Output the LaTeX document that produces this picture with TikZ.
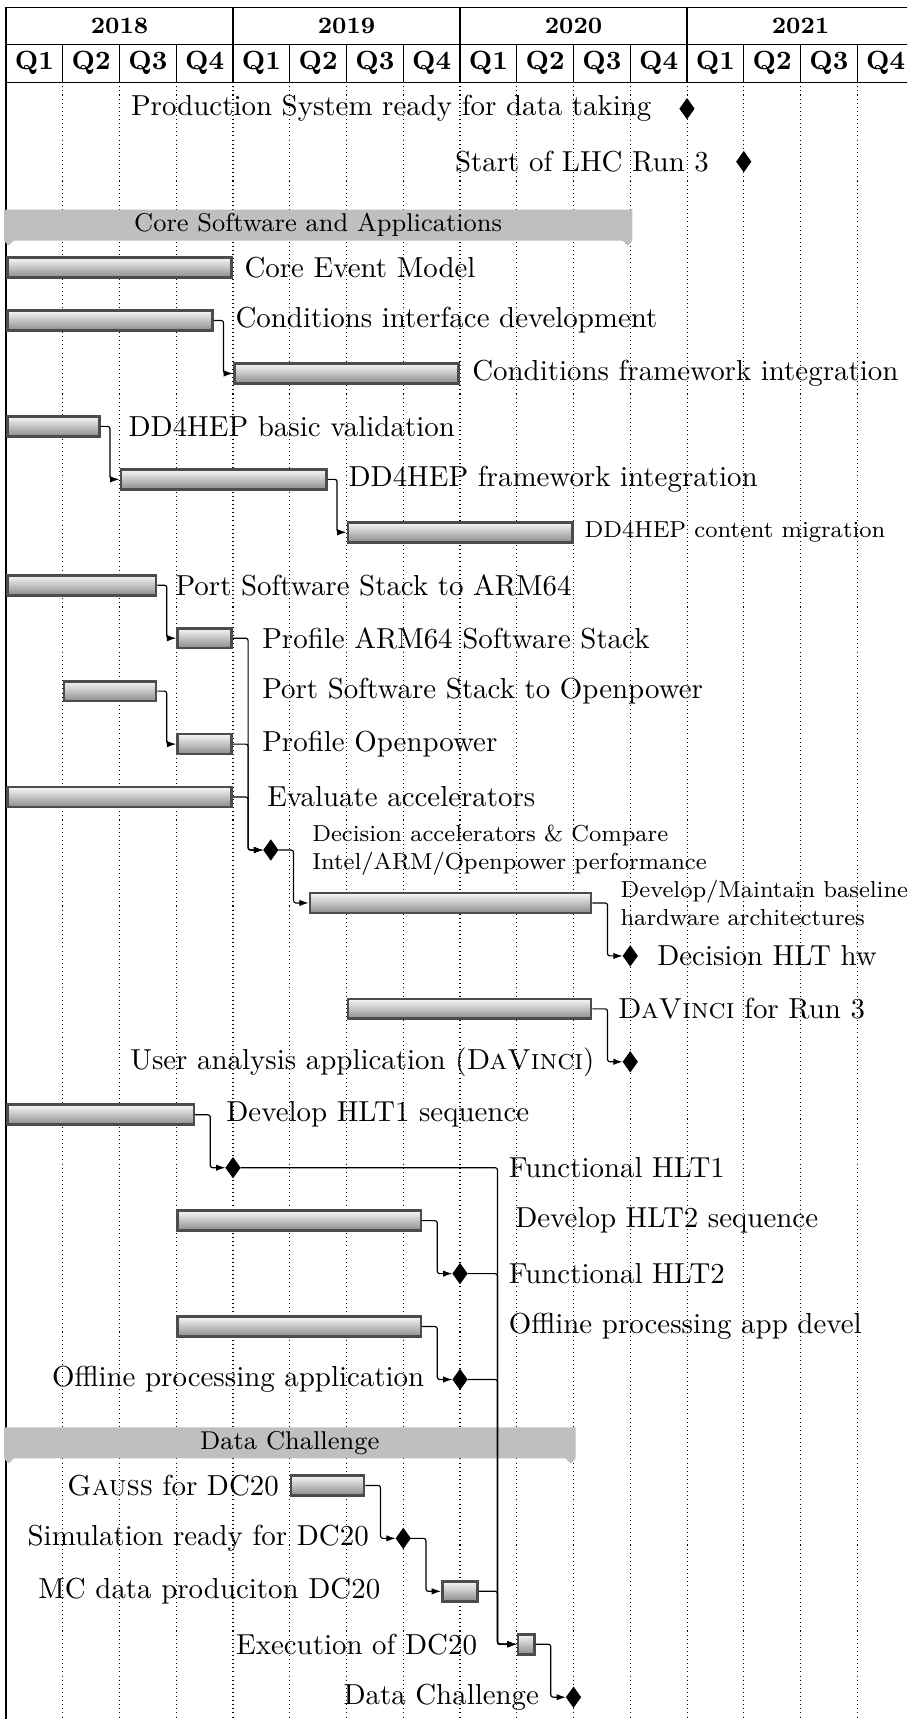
\documentclass[tikz,border=0pt]{standalone}
\usetikzlibrary{shapes.geometric,arrows.meta,calc}
% month -> x, row -> y (units: 1 = 0.3418pt, y grows downwards)
\newcommand\mx[1]{(6+18.9167*(#1))}
\newcommand\ry[1]{(108.7+52.95*(#1))}
\tikzset{
  ganttbar/.style={rectangle, draw=black!70, line width=0.9pt, top color=black!3, bottom color=black!45,
    inner sep=0pt, minimum height=6.8pt},
  ms/.style={diamond, fill=black, inner sep=0pt, outer sep=0pt, minimum width=5.2pt, minimum height=7.3pt},
  lnk/.style={draw=black, line width=0.4pt, rounded corners=0.8pt, -{Latex[length=3.2pt,width=2.2pt]}},
  grp/.style={fill=black!25},
  grptext/.style={font=\fontsize{8.8}{10.5}\selectfont, inner sep=0pt},
  lbl/.style={inner sep=0pt, anchor=west},
  lblr/.style={inner sep=0pt, anchor=east},
  lblsmall/.style={inner sep=0pt, anchor=west, align=left, font=\fontsize{7.9}{9.4}\selectfont},
  gridline/.style={line width=0.35pt, dash pattern=on 0.35pt off 1.05pt},
  frameline/.style={line width=0.4pt},
  yearlbl/.style={font=\fontsize{8}{9.6}\selectfont\bfseries, inner sep=0pt},
  qlbl/.style={font=\fontsize{9}{11}\selectfont\bfseries, inner sep=0pt}
}
% task bar: name, row, first month, last month
\newcommand\gtbar[4]{\node[ganttbar, anchor=west, minimum width={18.9167*(#4-#3)*0.3418pt-0.9pt}] (#1) at ({\mx{#3}},{\ry{#2}}) {};}
% milestone: name, row, month
\newcommand\gtms[3]{\node[ms] (#1) at ({\mx{#3}},{\ry{#2}}) {};}
% group bar: name, row, first month, last month, text
\newcommand\gtgroup[5]{%
  \fill[grp] ({\mx{#3}-2},{\ry{#2}-5}) -- ({\mx{#4}+2},{\ry{#2}-5}) -- ({\mx{#4}+2},{\ry{#2}+26})
    -- ({\mx{#4}-2.5},{\ry{#2}+31}) -- ({\mx{#4}-8},{\ry{#2}+26}) -- ({\mx{#3}+8},{\ry{#2}+26})
    -- ({\mx{#3}+2.5},{\ry{#2}+31}) -- ({\mx{#3}-2},{\ry{#2}+26}) -- cycle;
  \node[grptext] (#1) at ({(\mx{#3}+\mx{#4})/2},{\ry{#2}+10.5}) {#5};}
% finish-to-start link, vertical part halfway
\newcommand\flink[2]{\path ($(#1.east)!.5!(#2.west)$) coordinate (m-#1-#2);
  \draw[lnk] (#1.east) -- (#1.east -| m-#1-#2) -- (#2.west -| m-#1-#2) -- (#2.west);}
% finish-to-start link, vertical part through a given coordinate
\newcommand\flinkat[3]{\draw[lnk] (#1.east) -- (#1.east -| #3) -- (#2.west -| #3) -- (#2.west);}

\begin{document}
\begin{tikzpicture}[x=0.3418pt, y=-0.3418pt, font=\fontsize{9.88}{11.9}\selectfont]
\useasboundingbox (0,0) rectangle (907,1719);
\clip (0,0) rectangle (907,1719);
\fill[white] (0,0) rectangle (907,1719);

% grid
\foreach \i in {1,...,15}
  \draw[gridline] ({6+56.75*\i},82.2) -- ({6+56.75*\i},1724);

% frame and calendar header
\draw[frameline] (6,7.3) rectangle (914,1724);
\draw[frameline] (6,44.5) -- (914,44.5);
\draw[frameline] (6,82.2) -- (914,82.2);
\foreach \i in {1,2,3}
  \draw[frameline] ({6+227*\i},7.3) -- ({6+227*\i},82.2);
\foreach \i in {1,...,15}
  \draw[frameline] ({6+56.75*\i},44.5) -- ({6+56.75*\i},82.2);
\foreach \y [count=\k from 0] in {2018,2019,2020,2021}
  \node[yearlbl] (year-\y) at ({6+227*\k+113.5},25.9) {\y};
\foreach \i in {0,...,15}{
  \pgfmathtruncatemacro\q{mod(\i,4)+1}
  \node[qlbl] (q-\i) at ({6+56.75*\i+28.375},63.3) {Q\q};
}

% groups
\gtgroup{g-core}{2}{0}{33}{Core Software and Applications}
\gtgroup{g-dc}{25}{0}{30}{Data Challenge}

% bars and milestones
\gtms{prod}{0}{36}
\gtms{run3}{1}{39}
\gtbar{cem}{3}{0}{12}
\gtbar{cint}{4}{0}{11}
\gtbar{cfw}{5}{12}{24}
\gtbar{ddb}{6}{0}{5}
\gtbar{ddf}{7}{6}{17}
\gtbar{ddc}{8}{18}{30}
\gtbar{parm}{9}{0}{8}
\gtbar{prarm}{10}{9}{12}
\gtbar{pop}{11}{3}{8}
\gtbar{prop}{12}{9}{12}
\gtbar{evacc}{13}{0}{12}
\gtms{decacc}{14}{14}
\gtbar{devhw}{15}{16}{31}
\gtms{dechlt}{16}{33}
\gtbar{dav}{17}{18}{31}
\gtms{usr}{18}{33}
\gtbar{hlta}{19}{0}{10}
\gtms{fhlta}{20}{12}
\gtbar{hltb}{21}{9}{22}
\gtms{fhltb}{22}{24}
\gtbar{offd}{23}{9}{22}
\gtms{offa}{24}{24}
\gtbar{gauss}{26}{15}{19}
\gtms{simr}{27}{21}
\gtbar{mcd}{28}{23}{25}
\gtbar{exe}{29}{27}{28}
\gtms{dchal}{30}{30}

% links
\coordinate (xv) at (497.5,0);
\flink{cint}{cfw}
\flink{ddb}{ddf}
\flink{ddf}{ddc}
\flink{parm}{prarm}
\flink{pop}{prop}
\flink{prarm}{decacc}
\flink{prop}{decacc}
\flink{evacc}{decacc}
\flink{decacc}{devhw}
\flink{devhw}{dechlt}
\flink{dav}{usr}
\flink{hlta}{fhlta}
\flinkat{fhlta}{exe}{xv}
\flink{hltb}{fhltb}
\flinkat{fhltb}{exe}{xv}
\flink{offd}{offa}
\flinkat{offa}{exe}{xv}
\flink{gauss}{simr}
\flink{simr}{mcd}
\flinkat{mcd}{exe}{xv}
\flink{exe}{dchal}

% labels
\node[lblr] (prod-l) at (652,{\ry{0}}) {Production System ready for data taking};
\node[lblr] (run3-l) at (709.5,{\ry{1}}) {Start of LHC Run 3};
\node[lbl] (cem-l) at (244,{\ry{3}}) {Core Event Model};
\node[lbl] (cint-l) at (235,{\ry{4}}) {Conditions interface development};
\node[lbl] (cfw-l) at (471.7,{\ry{5}}) {Conditions framework integration};
\node[lbl] (ddb-l) at (128,{\ry{6}}) {DD4HEP basic validation};
\node[lbl] (ddf-l) at (348,{\ry{7}}) {DD4HEP framework integration};
\node[lblsmall] (ddc-l) at (584,{\ry{8}}) {DD4HEP content migration};
\node[lbl] (parm-l) at (175,{\ry{9}}) {Port Software Stack to ARM64};
\node[lbl] (prarm-l) at (261.7,{\ry{10}}) {Profile ARM64 Software Stack};
\node[lbl] (pop-l) at (261.7,{\ry{11}}) {Port Software Stack to Openpower};
\node[lbl] (prop-l) at (261.7,{\ry{12}}) {Profile Openpower};
\node[lbl] (evacc-l) at (266.7,{\ry{13}}) {Evaluate accelerators};
\node[lblsmall] (decacc-l) at (311.7,{\ry{14}}) {Decision accelerators \& Compare\\Intel/ARM/Openpower performance};
\node[lblsmall] (devhw-l) at (620,{\ry{15}}) {Develop/Maintain baseline\\hardware architectures};
\node[lbl] (dechlt-l) at (656.7,{\ry{16}}) {Decision HLT hw};
\node[lbl] (dav-l) at (617.3,{\ry{17}}) {\textsc{DaVinci} for Run 3};
\node[lblr] (usr-l) at (595,{\ry{18}}) {User analysis application (\textsc{DaVinci})};
\node[lbl] (hlta-l) at (225.8,{\ry{19}}) {Develop HLT1 sequence};
\node[lbl] (fhlta-l) at (508.2,{\ry{20}}) {Functional HLT1};
\node[lbl] (hltb-l) at (514.7,{\ry{21}}) {Develop HLT2 sequence};
\node[lbl] (fhltb-l) at (508.2,{\ry{22}}) {Functional HLT2};
\node[lbl] (offd-l) at (508.2,{\ry{23}}) {Offline processing app devel};
\node[lblr] (offa-l) at (424.8,{\ry{24}}) {Offline processing application};
\node[lblr] (gauss-l) at (279.4,{\ry{26}}) {\textsc{Gauss} for DC20};
\node[lblr] (simr-l) at (369.3,{\ry{27}}) {Simulation ready for DC20};
\node[lblr] (mcd-l) at (380.8,{\ry{28}}) {MC data produciton DC20};
\node[lblr] (exe-l) at (477.6,{\ry{29}}) {Execution of DC20};
\node[lblr] (dchal-l) at (539.6,{\ry{30}}) {Data Challenge};
\end{tikzpicture}
\end{document}
